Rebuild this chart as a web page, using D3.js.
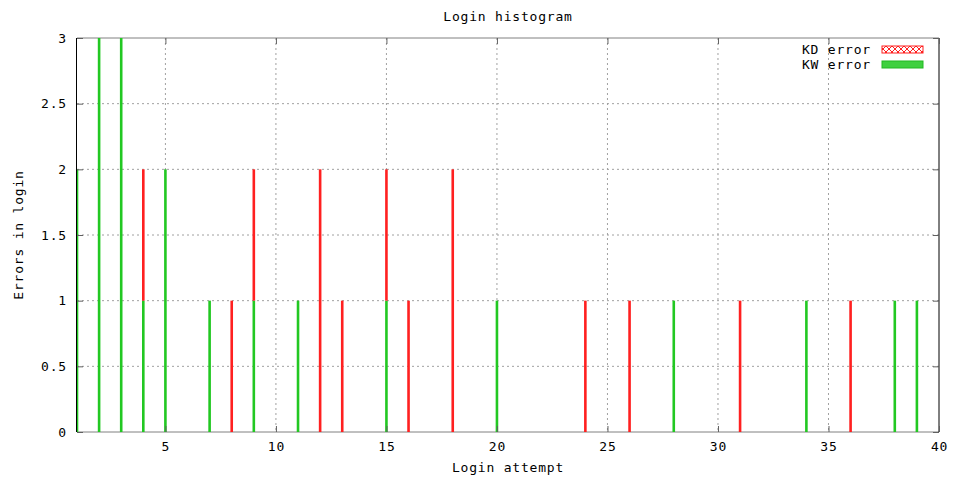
<!DOCTYPE html>
<html>
<head>
<meta charset="utf-8">
<script src="https://d3js.org/d3.v7.min.js"></script>
<style>
  body { margin: 0; background: #fff; }
  text { font-family: "DejaVu Sans Mono", monospace; font-size: 13px; fill: #000; letter-spacing: 0.8px; }
</style>
</head>
<body>
<svg width="953" height="478"></svg>
<script>
// login attempt numbers and error counts
const attempts = [1, 2, 3, 4, 5, 7, 8, 9, 11, 12, 13, 15, 16, 18, 20, 24, 26, 28, 31, 34, 36, 38, 39];
const kwErrors = [2, 3, 3, 1, 2, 1, 0, 1, 1, 0, 0, 1, 0, 0, 1, 0, 0, 1, 0, 1, 0, 1, 1];
const kdErrors = [0, 0, 0, 1, 0, 0, 1, 1, 0, 2, 1, 1, 1, 2, 0, 1, 1, 0, 1, 0, 1, 0, 0];
const xTicks = [5, 10, 15, 20, 25, 30, 35, 40];
const yTicks = [0, 0.5, 1, 1.5, 2, 2.5, 3];

const margin = {top: 38, right: 14, bottom: 46, left: 77};
const width = 953 - margin.left - margin.right;
const height = 478 - margin.top - margin.bottom;

const svg = d3.select("svg");

const rows = attempts.map((a, i) => ({attempt: a, kw: kwErrors[i], kd: kdErrors[i]}));
const stacked = d3.stack().keys(["kw", "kd"])(rows);

const x = d3.scaleLinear().domain([1, 40]).range([0, width]);
const y = d3.scaleLinear().domain([0, 3]).range([height, 0]);

const g = svg.append("g")
    .attr("transform", "translate(" + margin.left + "," + margin.top + ")");

g.append("clipPath").attr("id", "plot")
  .append("rect").attr("width", width).attr("height", height);

// dotted grid
g.selectAll(".gx").data(xTicks.filter(t => t < 40)).enter().append("line")
    .attr("x1", d => x(d)).attr("x2", d => x(d))
    .attr("y1", 0).attr("y2", height)
    .attr("stroke", "#a0a0a0").attr("stroke-dasharray", "2,3");
g.selectAll(".gy").data(yTicks.filter(t => t > 0 && t < 3)).enter().append("line")
    .attr("x1", 0).attr("x2", width)
    .attr("y1", d => y(d)).attr("y2", d => y(d))
    .attr("stroke", "#a0a0a0").attr("stroke-dasharray", "2,3");

const colors = {kw: "#22c822", kd: "#ff2020"};
const bw = 2.6;

// frame and mirrored ticks
g.append("line").attr("x1", 0).attr("x2", width).attr("y1", 0).attr("y2", 0).attr("stroke", "#808080");
g.append("line").attr("x1", 0).attr("x2", width).attr("y1", height).attr("y2", height).attr("stroke", "#808080");
g.append("line").attr("x1", -0.5).attr("x2", -0.5).attr("y1", 0).attr("y2", height).attr("stroke", "#000");
g.append("line").attr("x1", width).attr("x2", width).attr("y1", 0).attr("y2", height).attr("stroke", "#000");

g.append("g").attr("clip-path", "url(#plot)")
  .selectAll("g").data(stacked).enter().append("g")
    .attr("fill", d => colors[d.key])
  .selectAll("rect").data(d => d.filter(p => p[1] > p[0])).enter().append("rect")
    .attr("x", d => x(d.data.attempt) - bw / 2)
    .attr("width", bw)
    .attr("y", d => y(d[1]))
    .attr("height", d => y(d[0]) - y(d[1]));

g.append("g").attr("transform", "translate(0," + height + ")")
    .call(d3.axisBottom(x).tickValues(xTicks).tickSize(-6).tickPadding(10));
g.append("g")
    .call(d3.axisLeft(y).tickValues(yTicks).tickFormat(d3.format("")).tickSize(-6).tickPadding(10));
g.append("g").call(d3.axisTop(x).tickValues(xTicks).tickSize(-6).tickFormat(""));
g.append("g").attr("transform", "translate(" + width + ",0)")
    .call(d3.axisRight(y).tickValues(yTicks).tickSize(-6).tickFormat(""));
g.selectAll(".domain").remove();
g.selectAll(".tick line").attr("stroke", "#606060");
g.selectAll(".tick text").attr("font-family", null).attr("font-size", null).attr("fill", null);

// titles
svg.append("text").attr("x", 508).attr("y", 21).attr("text-anchor", "middle").text("Login histogram");
svg.append("text").attr("x", 508).attr("y", 472).attr("text-anchor", "middle").text("Login attempt");
svg.append("text").attr("transform", "translate(23,235) rotate(-90)").attr("text-anchor", "middle").text("Errors in login");

// legend
const defs = svg.append("defs");
const pat = defs.append("pattern").attr("id", "hatch").attr("width", 6).attr("height", 6)
    .attr("patternUnits", "userSpaceOnUse");
pat.append("path").attr("d", "M0,0L6,6M6,0L0,6").attr("stroke", "#ff2020").attr("stroke-width", 1);

const legend = [{name: "KD error", key: "kd"}, {name: "KW error", key: "kw"}];
const lg = svg.append("g").attr("transform", "translate(871,49)");
legend.forEach((l, i) => {
  lg.append("text").attr("x", 0).attr("y", i * 15 + 5).attr("text-anchor", "end").text(l.name);
  lg.append("rect").attr("x", 11).attr("y", i * 15 - 3).attr("width", 41).attr("height", 7)
      .attr("fill", l.key === "kd" ? "url(#hatch)" : "#3fd03f")
      .attr("stroke", l.key === "kd" ? "#ff2020" : "#22b822");
});
</script>
</body>
</html>
